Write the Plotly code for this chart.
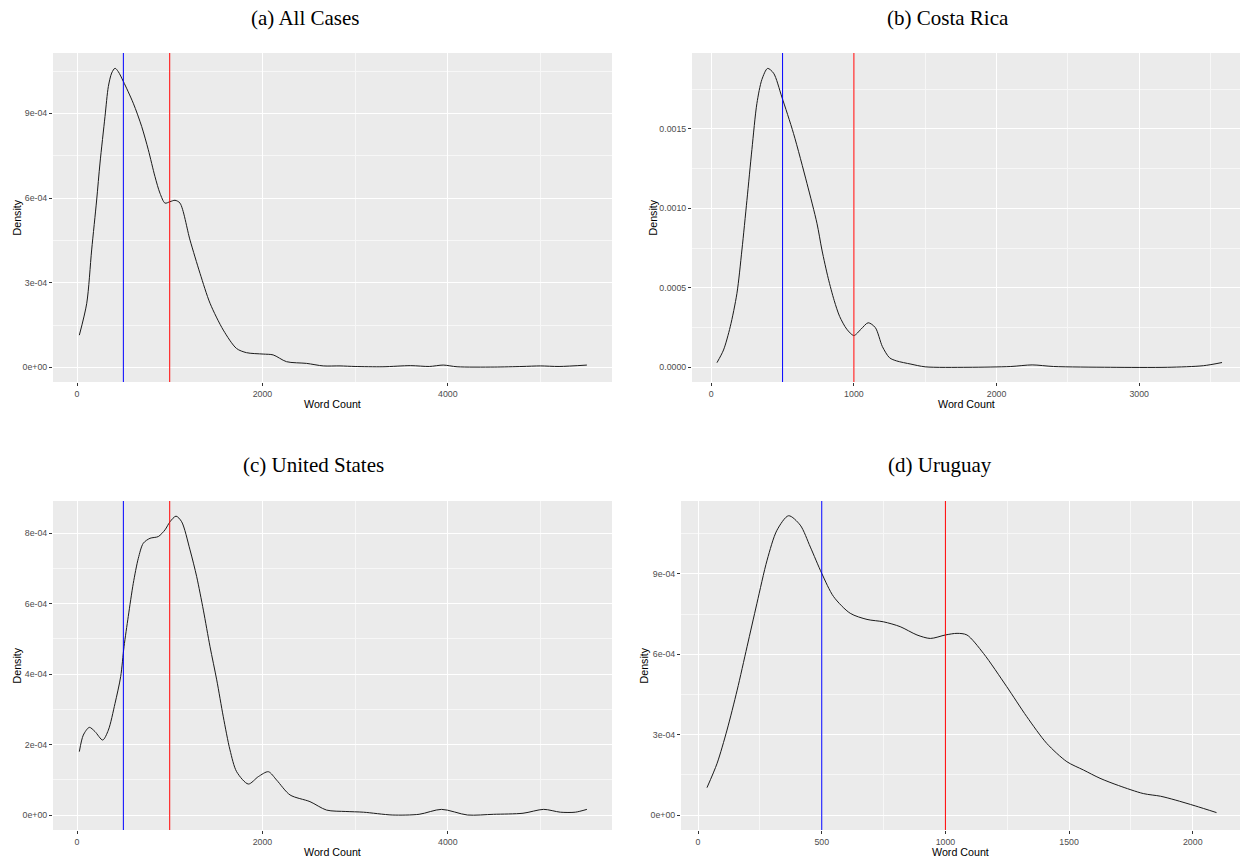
import plotly.graph_objects as go

# ---------------- data ----------------
# (a) All Cases  (density in units of 1e-4)
x_all = [25, 105, 158, 212, 248, 302, 338, 374, 410, 445, 500, 607, 698, 769, 841, 895, 949, 1003,
         1057, 1111, 1219, 1327, 1435, 1578, 1720, 1828, 2008, 2116, 2260, 2476, 2656, 2837, 3000,
         3300, 3600, 3800, 3950, 4100, 4500, 4800, 5000, 5200, 5500]
y_all = [1.14, 2.27, 4.16, 5.93, 7.24, 8.89, 9.95, 10.43, 10.6, 10.48, 10.13, 9.36, 8.53, 7.71, 6.76,
         6.17, 5.82, 5.87, 5.92, 5.82, 4.51, 3.33, 2.27, 1.32, 0.67, 0.52, 0.47, 0.44, 0.2, 0.14, 0.05,
         0.05, 0.03, 0.02, 0.06, 0.03, 0.08, 0.02, 0.01, 0.03, 0.05, 0.03, 0.08]

# (b) Costa Rica (density in units of 1e-4)
x_cr = [40, 86, 133, 180, 215, 250, 285, 320, 355, 395, 437, 495, 577, 671, 741, 776, 820, 862, 900,
        950, 1000, 1050, 1100, 1150, 1200, 1250, 1300, 1400, 1500, 1800, 2100, 2250, 2400, 2800,
        3200, 3450, 3581]
y_cr = [0.29, 1.09, 2.55, 4.65, 7.38, 10.5, 13.7, 16.6, 18.1, 18.8, 18.5, 17.0, 14.7, 11.57, 9.06,
        7.38, 5.6, 4.2, 3.2, 2.4, 2.0, 2.4, 2.8, 2.5, 1.3, 0.6, 0.4, 0.2, 0.03, 0.0, 0.05, 0.15, 0.05,
        0.0, 0.0, 0.1, 0.3]

# (c) United States (density in units of 1e-4)
x_us = [25, 68, 133, 194, 277, 338, 410, 471, 507, 553, 607, 661, 715, 787, 877, 949, 1003, 1068,
        1129, 1219, 1291, 1363, 1435, 1507, 1578, 1650, 1722, 1848, 1956, 2064, 2154, 2298, 2513,
        2692, 2900, 3090, 3400, 3690, 3932, 4212, 4493, 4811, 5034, 5214, 5375, 5500]
y_us = [1.8, 2.27, 2.49, 2.37, 2.13, 2.41, 3.17, 3.93, 4.78, 5.64, 6.58, 7.29, 7.72, 7.86, 7.91,
        8.1, 8.33, 8.49, 8.33, 7.53, 6.77, 5.82, 4.78, 3.84, 2.79, 1.85, 1.23, 0.88, 1.09, 1.23, 0.99,
        0.57, 0.38, 0.14, 0.1, 0.08, 0.0, 0.02, 0.16, 0.0, 0.02, 0.05, 0.16, 0.08, 0.08, 0.16]

# (d) Uruguay (density in units of 1e-4)
x_uy = [36, 77, 117, 158, 198, 238, 279, 319, 366, 413, 454, 500, 548, 615, 683, 750, 817, 885, 939,
        1000, 1047, 1087, 1154, 1248, 1329, 1410, 1491, 1558, 1625, 1700, 1800, 1870, 1929, 2010, 2096]
y_uy = [1.02, 1.93, 3.17, 4.66, 6.28, 7.9, 9.51, 10.63, 11.17, 10.82, 10.0, 9.02, 8.15, 7.53, 7.3,
        7.21, 7.03, 6.72, 6.59, 6.72, 6.78, 6.72, 6.03, 4.79, 3.67, 2.67, 1.99, 1.68, 1.37, 1.1, 0.8,
        0.7, 0.56, 0.34, 0.09]

titles = ["(a) All Cases", "(b) Costa Rica", "(c) United States", "(d) Uruguay"]
ref_lines = [500, 1000]
ref_colors = ["#0000FF", "#FF0000"]

x_ticks_wide = [0, 2000, 4000]
x_ticks_cr = [0, 1000, 2000, 3000]
x_ticks_uy = [0, 500, 1000, 1500, 2000]
y_ticks_all = [0, 3e-4, 6e-4, 9e-4]
y_text_all = ["0e+00", "3e-04", "6e-04", "9e-04"]
y_ticks_cr = [0, 0.0005, 0.0010, 0.0015]
y_text_cr = ["0.0000", "0.0005", "0.0010", "0.0015"]
y_ticks_us = [0, 2e-4, 4e-4, 6e-4, 8e-4]
y_text_us = ["0e+00", "2e-04", "4e-04", "6e-04", "8e-04"]

SCALE = 1e-4
W, H = 1243, 860

# ---------------- layout geometry (pixels) ----------------
panels = [
    dict(x=x_all, y=y_all, px=(53, 612), py=(53, 382), xr=[-259, 5771], yr=[-0.52e-4, 11.14e-4],
         xt=x_ticks_wide, xminor=(1000, 2000), yt=y_ticks_all, ytt=y_text_all, yminor=(1.5e-4, 3e-4),
         title_xy=(305, 18), dens_x=16),
    dict(x=x_cr, y=y_cr, px=(692, 1240), py=(53, 382), xr=[-135, 3707], yr=[-0.0000925, 0.001977],
         xt=x_ticks_cr, xminor=(500, 1000), yt=y_ticks_cr, ytt=y_text_cr, yminor=(0.00025, 0.0005),
         title_xy=(948, 18), dens_x=652),
    dict(x=x_us, y=y_us, px=(53, 612), py=(501, 830), xr=[-259, 5771], yr=[-0.426e-4, 8.92e-4],
         xt=x_ticks_wide, xminor=(1000, 2000), yt=y_ticks_us, ytt=y_text_us, yminor=(1e-4, 2e-4),
         title_xy=(313, 465), dens_x=16),
    dict(x=x_uy, y=y_uy, px=(681, 1240), py=(501, 830), xr=[-69, 2191], yr=[-0.56e-4, 11.72e-4],
         xt=x_ticks_uy, xminor=(250, 500), yt=y_ticks_all, ytt=y_text_all, yminor=(1.5e-4, 3e-4),
         title_xy=(940, 465), dens_x=643),
]

tick_font = dict(family="Liberation Sans, Arial, sans-serif", size=8.8, color="#4D4D4D")
lab_font = dict(family="Liberation Sans, Arial, sans-serif", size=10.7, color="#000000")
title_font = dict(family="Liberation Serif, Times New Roman, serif", size=21, color="#000000")

fig = go.Figure()
layout = dict(width=W, height=H, margin=dict(l=0, r=0, t=0, b=0), paper_bgcolor="white",
              plot_bgcolor="#EBEBEB", showlegend=False)
shapes, annotations = [], []

for i, p in enumerate(panels, start=1):
    sfx = "" if i == 1 else str(i)
    xd = [p["px"][0] / W, p["px"][1] / W]
    yd = [1 - p["py"][1] / H, 1 - p["py"][0] / H]
    shapes.append(dict(type="rect", xref=f"x{sfx} domain", yref=f"y{sfx} domain", x0=0, x1=1, y0=0, y1=1,
                       fillcolor="#EBEBEB", line=dict(width=0), layer="below"))
    layout[f"xaxis{sfx}"] = dict(
        domain=xd, range=p["xr"], anchor=f"y{sfx}", tickmode="array", tickvals=p["xt"],
        ticktext=[str(v) for v in p["xt"]], showgrid=True, gridcolor="white", gridwidth=1.1,
        zeroline=False, showline=False, ticks="outside", ticklen=3, tickcolor="#333333", tickwidth=1,
        tickfont=tick_font,
        minor=dict(tickmode="linear", tick0=p["xminor"][0], dtick=p["xminor"][1], showgrid=True,
                   gridcolor="#F7F7F7", gridwidth=0.6, ticks=""),
    )
    layout[f"yaxis{sfx}"] = dict(
        domain=yd, range=p["yr"], anchor=f"x{sfx}", tickmode="array", tickvals=p["yt"],
        ticktext=p["ytt"], showgrid=True, gridcolor="white", gridwidth=1.1,
        zeroline=False, showline=False, ticks="outside", ticklen=3, tickcolor="#333333", tickwidth=1,
        tickfont=tick_font,
        minor=dict(tickmode="linear", tick0=p["yminor"][0], dtick=p["yminor"][1], showgrid=True,
                   gridcolor="#F7F7F7", gridwidth=0.6, ticks=""),
    )
    fig.add_trace(go.Scatter(x=p["x"], y=[v * SCALE for v in p["y"]], mode="lines",
                             line=dict(color="#1A1A1A", width=1, shape="spline", smoothing=0.8),
                             xaxis=f"x{sfx}", yaxis=f"y{sfx}", hoverinfo="skip"))
    for v, c in zip(ref_lines, ref_colors):
        shapes.append(dict(type="line", xref=f"x{sfx}", yref=f"y{sfx} domain", x0=v, x1=v, y0=0, y1=1,
                           line=dict(color=c, width=1)))
    annotations.append(dict(text=titles[i - 1], xref="paper", yref="paper",
                            x=p["title_xy"][0] / W, y=1 - p["title_xy"][1] / H,
                            showarrow=False, font=title_font, xanchor="center", yanchor="middle"))
    annotations.append(dict(text="Word Count", xref="paper", yref="paper",
                            x=(p["px"][0] + p["px"][1]) / 2 / W, y=1 - (p["py"][1] + 22) / H,
                            showarrow=False, font=lab_font, xanchor="center", yanchor="middle"))
    annotations.append(dict(text="Density", xref="paper", yref="paper",
                            x=p["dens_x"] / W, y=1 - (p["py"][0] + p["py"][1]) / 2 / H,
                            showarrow=False, font=lab_font, textangle=-90,
                            xanchor="center", yanchor="middle"))

layout["shapes"] = shapes
layout["annotations"] = annotations
fig.update_layout(**layout)
fig.write_html(
    "out.html",
    config={"displayModeBar": False},
    post_script="document.body.style.margin='0';document.body.style.overflow='hidden';",
)
